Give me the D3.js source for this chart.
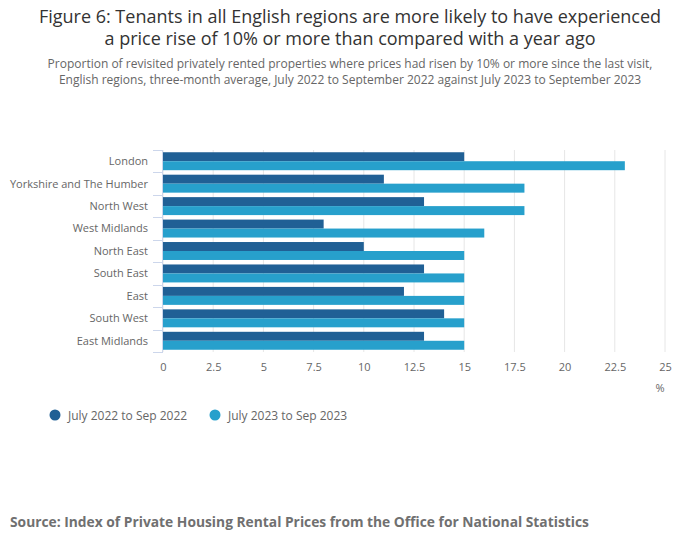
<!DOCTYPE html>
<meta charset="utf-8">
<script src="https://d3js.org/d3.v7.min.js"></script>
<style>
  body { margin: 0; background: #fff; font-family: "Open Sans", sans-serif; }
</style>
<div id="my_dataviz"></div>
<script>

// data
var regions = ["London", "Yorkshire and The Humber", "North West", "West Midlands",
  "North East", "South East", "East", "South West", "East Midlands"];
var series = ["July 2022 to Sep 2022", "July 2023 to Sep 2023"];
var values2022 = [15, 11, 13, 8, 10, 13, 12, 14, 13];
var values2023 = [23, 18, 18, 16, 15, 15, 15, 15, 15];
var xTicks = [0, 2.5, 5, 7.5, 10, 12.5, 15, 17.5, 20, 22.5, 25];
var colors = ["#206095", "#27a0cc"];

var W = 700, H = 549;
var margin = {top: 150, right: 35, bottom: 197, left: 163},
    width = W - margin.left - margin.right,
    height = H - margin.top - margin.bottom;

var svg = d3.select("#my_dataviz")
  .append("svg")
    .attr("width", W)
    .attr("height", H);

// title + subtitle
var title = svg.append("text")
  .attr("text-anchor", "middle")
  .style("font-size", "18px")
  .style("fill", "#333");
title.append("tspan").attr("x", W / 2).attr("y", 23)
  .text("Figure 6: Tenants in all English regions are more likely to have experienced");
title.append("tspan").attr("x", W / 2).attr("y", 45)
  .text("a price rise of 10% or more than compared with a year ago");

var sub = svg.append("text")
  .attr("text-anchor", "middle")
  .style("font-size", "12px")
  .style("fill", "#666");
sub.append("tspan").attr("x", W / 2).attr("y", 68)
  .text("Proportion of revisited privately rented properties where prices had risen by 10% or more since the last visit,");
sub.append("tspan").attr("x", W / 2).attr("y", 84)
  .text("English regions, three-month average, July 2022 to September 2022 against July 2023 to September 2023");

var g = svg.append("g")
  .attr("transform", "translate(" + margin.left + "," + margin.top + ")");

// scales
var x = d3.scaleLinear().domain([0, 25]).range([0, width]);
var y = d3.scaleBand().domain(regions).range([0, height])
  .paddingInner(0.2).paddingOuter(0.1);
var ySub = d3.scaleBand().domain([0, 1]).range([0, y.bandwidth()]);

// gridlines
g.append("g")
  .selectAll("line")
  .data(xTicks)
  .enter().append("line")
    .attr("x1", function(d) { return x(d); })
    .attr("x2", function(d) { return x(d); })
    .attr("y1", 0)
    .attr("y2", height)
    .attr("stroke", "#e6e6e6");

// x axis labels
var xAxis = g.append("g")
  .attr("transform", "translate(0," + height + ")")
  .call(d3.axisBottom(x).tickValues(xTicks).tickSize(0).tickPadding(11)
    .tickFormat(function(d) { return String(d); }));
xAxis.select(".domain").remove();
xAxis.selectAll("text")
  .style("font-family", "Open Sans")
  .style("font-size", "11px")
  .style("fill", "#666");

svg.append("text")
  .attr("x", 660)
  .attr("y", 392)
  .attr("text-anchor", "middle")
  .style("font-size", "11px")
  .style("fill", "#666")
  .text("%");

// bars
var rows = g.append("g")
  .selectAll("g")
  .data(regions)
  .enter().append("g")
    .attr("transform", function(d) { return "translate(0," + y(d) + ")"; });

rows.append("rect")
  .attr("x", 0)
  .attr("y", ySub(0))
  .attr("height", ySub.bandwidth())
  .attr("width", function(d, i) { return x(values2022[i]); })
  .attr("fill", colors[0]);

rows.append("rect")
  .attr("x", 0)
  .attr("y", ySub(1))
  .attr("height", ySub.bandwidth())
  .attr("width", function(d, i) { return x(values2023[i]); })
  .attr("fill", colors[1]);

// y axis with ticks on band boundaries
var yAxis = g.append("g");
yAxis.append("line")
  .attr("x1", -0.5).attr("x2", -0.5)
  .attr("y1", 0).attr("y2", height)
  .attr("stroke", "#ccd6eb");
yAxis.selectAll(".tk")
  .data(d3.range(regions.length + 1))
  .enter().append("line")
    .attr("class", "tk")
    .attr("x1", -10).attr("x2", 0)
    .attr("y1", function(i) { return Math.round(i * y.step()) + 0.5; })
    .attr("y2", function(i) { return Math.round(i * y.step()) + 0.5; })
    .attr("stroke", "#ccd6eb");
yAxis.selectAll(".lbl")
  .data(regions)
  .enter().append("text")
    .attr("class", "lbl")
    .attr("x", -15)
    .attr("y", function(d) { return y(d) + y.bandwidth() / 2; })
    .attr("dy", "0.35em")
    .attr("text-anchor", "end")
    .style("font-size", "11px")
    .style("fill", "#666")
    .text(function(d) { return d; });

// legend
var legend = svg.append("g")
  .selectAll("g")
  .data(series)
  .enter().append("g")
    .attr("transform", function(d, i) { return "translate(" + (55 + i * 160) + ",416)"; });
legend.append("circle")
  .attr("r", 5.5)
  .attr("cy", -1)
  .attr("fill", function(d, i) { return colors[i]; });
legend.append("text")
  .attr("x", 13)
  .attr("dy", "0.35em")
  .style("font-size", "12px")
  .style("fill", "#666")
  .text(function(d) { return d; });

// source
svg.append("text")
  .attr("x", 10)
  .attr("y", 527)
  .style("font-size", "13.8px")
  .style("font-weight", "bold")
  .style("fill", "#707070")
  .text("Source: Index of Private Housing Rental Prices from the Office for National Statistics");

</script>
